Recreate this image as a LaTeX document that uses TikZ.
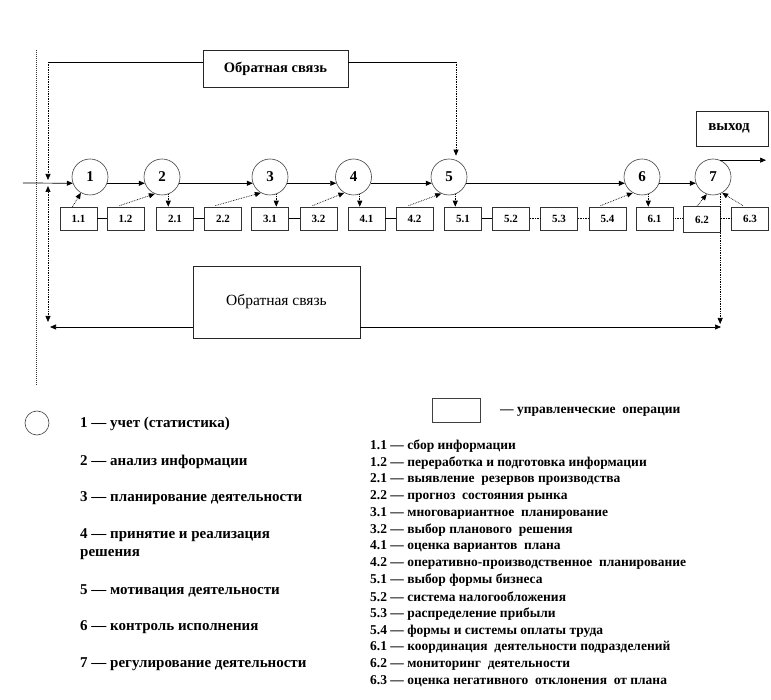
\documentclass[tikz,border=0pt]{standalone}
\usepackage{fontspec}
\setmainfont{Liberation Serif}
\usetikzlibrary{arrows.meta,calc}
\begin{document}
\begin{tikzpicture}[x=1pt,y=-1pt,
  circ/.style={circle,draw=black!75,line width=0.6pt,minimum size=36pt,inner sep=0pt,font=\bfseries\fontsize{15}{15}\selectfont},
  op/.style={draw=black!80,line width=0.6pt,minimum width=37pt,minimum height=23pt,inner sep=0pt,font=\bfseries\fontsize{11}{11}\selectfont},
  fb/.style={draw=black!85,line width=0.6pt,inner sep=0pt},
  arr/.style={-{Triangle[length=6pt,width=5pt]},line width=0.7pt},
  darr/.style={arr,densely dotted},
  link/.style={line width=0.7pt},
  dlink/.style={line width=0.7pt,densely dotted},
  legl/.style={anchor=west,inner sep=0pt,align=left,font=\bfseries\fontsize{15}{18}\selectfont},
  legr/.style={anchor=west,inner sep=0pt,font=\bfseries\fontsize{13.5}{13.5}\selectfont}
]
\useasboundingbox (0,0) rectangle (771,700);

% feedback boxes
\node[fb,minimum width=145pt,minimum height=37pt,font=\bfseries\fontsize{14.5}{14.5}\selectfont] (fbtop) at (275.5,68.5) {Обратная связь};
\node[fb,minimum width=167pt,minimum height=72pt,font=\fontsize{15.5}{15.5}\selectfont] (fbbot) at (276.5,302) {Обратная связь};
\node[fb,minimum width=72pt,minimum height=35pt,font=\bfseries\fontsize{15}{15}\selectfont] (out) at (732,128.5) {\hspace*{-6pt}выход};

% circles
\node[circ] (c1) at (90,177) {1};
\node[circ] (c2) at (162,177) {2};
\node[circ] (c3) at (270,177) {3};
\node[circ] (c4) at (353.5,177) {4};
\node[circ] (c5) at (449,177) {5};
\node[circ] (c6) at (642,177) {6};
\node[circ] (c7) at (713,177) {7};

% operation boxes
\node[op] (b11) at (78.5,218.5) {1.1};
\node[op] (b12) at (125.5,218.5) {1.2};
\node[op] (b21) at (175,218.5) {2.1};
\node[op] (b22) at (223,218.5) {2.2};
\node[op] (b31) at (270,218.5) {3.1};
\node[op] (b32) at (318.5,218.5) {3.2};
\node[op] (b41) at (366.5,218.5) {4.1};
\node[op] (b42) at (414.5,218.5) {4.2};
\node[op] (b51) at (463,218.5) {5.1};
\node[op] (b52) at (511,218.5) {5.2};
\node[op] (b53) at (559,218.5) {5.3};
\node[op] (b54) at (607.5,218.5) {5.4};
\node[op] (b61) at (654.5,218.5) {6.1};
\node[op,minimum height=26pt] (b62) at (702,219.5) {6.2};
\node[op] (b63) at (750,218.5) {6.3};

% coordinates
\coordinate (in) at (23,183);
\coordinate (tl) at (48,62);
\coordinate (tr) at (456,62);
\coordinate (bl) at (50,327);
\coordinate (br) at (721,327);
\coordinate (lt) at (48,186);
\coordinate (lb) at (48,322);
\coordinate (ot) at (766,0);
\coordinate (d1) at (36,50);
\coordinate (d2) at (36,385);

% decorative left line
\draw[line width=1pt,densely dotted,black!80] (d1) -- (d2);

% main flow
\draw[arr] (in) -- (c1.200);
\draw[arr] (c1.-20) -- (c2.200);
\draw[arr] (c2.-20) -- (c3.200);
\draw[arr] (c3.-20) -- (c4.200);
\draw[arr] (c4.-20) -- (c5.200);
\draw[arr] (c5.-20) -- (c6.200);
\draw[arr] (c6.-20) -- (c7.200);
\draw[arr] (c7.67) -- (c7.67 -| ot);

% top feedback
\draw[link] (fbtop.west |- tl) -- (tl);
\draw[darr] (tl) -- (48,180);
\draw[link] (fbtop.east |- tr) -- (tr);
\draw[darr] (tr) -- ($(tr |- c5.north)+(0,-3)$);

% bottom feedback
\draw[arr] (fbbot.west |- bl) -- (bl);
\draw[arr] (fbbot.east |- br) -- (br);
\draw[darr] (c7.-67) -- ($(c7.-67 |- br)+(0,-3)$);
\draw[densely dotted,line width=0.7pt,{Triangle[length=6pt,width=5pt]}-{Triangle[length=6pt,width=5pt]}] (lt) -- (lb);

% box <-> circle arrows
\draw[darr] ($(b11.north)+(-6,0)$) -- (c1.240);
\draw[darr] ($(b12.north)+(-6,-1)$) -- (c2.247);
\draw[darr] (c2.290) -- (c2.290 |- b21.north);
\draw[darr] ($(b22.north)+(-8,-1)$) -- (c3.240);
\draw[darr] (c3.290) -- (c3.290 |- b31.north);
\draw[darr] ($(b32.north)+(-6,-1)$) -- (c4.240);
\draw[darr] (c4.290) -- (c4.290 |- b41.north);
\draw[darr] ($(b42.north)+(-6,-1)$) -- (c5.245);
\draw[darr] (c5.290) -- (c5.290 |- b51.north);
\draw[darr] ($(b54.north)+(-7,-1)$) -- (c6.240);
\draw[darr] (c6.290) -- (c6.290 |- b61.north);
\draw[darr] ($(b62.north)+(-5,0)$) -- (c7.250);
\draw[darr] ($(b63.north)+(-7,-1)$) -- (c7.300);

% box chains
\draw[link] (b11) -- (b12);
\draw[link] (b21) -- (b22);
\draw[link] (b31) -- (b32);
\draw[link] (b41) -- (b42);
\draw[link] (b51) -- (b52);
\draw[dlink] (b52) -- (b53);
\draw[dlink] (b53) -- (b54);
\draw[dlink] (b61) -- (b62.west |- b61);
\draw[dlink] (b62.east |- b63) -- (b63);

% legend left
\node[circle,draw=black!75,line width=0.6pt,minimum size=24pt,inner sep=0pt] (lc) at (37,423) {};
\node[legl] (l1) at (80,424) {1 — учет (статистика)};
\node[legl] (l2) at (80,462) {2 — анализ информации};
\node[legl] (l3) at (80,498) {3 — планирование деятельности};
\node[legl] (l4) at (80,544.5) {4 — принятие и реализация\\решения};
\node[legl] (l5) at (80,591) {5 — мотивация деятельности};
\node[legl] (l6) at (80,627.5) {6 — контроль исполнения};
\node[legl] (l7) at (80,664.5) {7 — регулирование деятельности};

% legend right
\node[draw=black!75,line width=0.6pt,minimum width=48pt,minimum height=24pt,inner sep=0pt] (lb0) at (456,410) {};
\node[legr] (r0) at (500,412) {— управленческие~ операции};
\node[legr] at (370,446) {1.1 — сбор информации};
\node[legr] at (370,462.8) {1.2 — переработка и подготовка информации};
\node[legr] at (370,479.6) {2.1 — выявление~ резервов производства};
\node[legr] at (370,496.4) {2.2 — прогноз~ состояния рынка};
\node[legr] at (370,513.2) {3.1 — многовариантное~ планирование};
\node[legr] at (370,530) {3.2 — выбор планового~ решения};
\node[legr] at (370,546.8) {4.1 — оценка вариантов~ плана};
\node[legr] at (370,563.6) {4.2 — оперативно-производственное~ планирование};
\node[legr] at (370,580.4) {5.1 — выбор формы бизнеса};
\node[legr] at (370,597.2) {5.2 — система налогообложения};
\node[legr] at (370,614) {5.3 — распределение прибыли};
\node[legr] at (370,630.8) {5.4 — формы и системы оплаты труда};
\node[legr] at (370,647.6) {6.1 — координация~ деятельности подразделений};
\node[legr] at (370,664.4) {6.2 — мониторинг~ деятельности};
\node[legr] at (370,681.2) {6.3 — оценка негативного~ отклонения~ от плана};
\end{tikzpicture}
\end{document}
